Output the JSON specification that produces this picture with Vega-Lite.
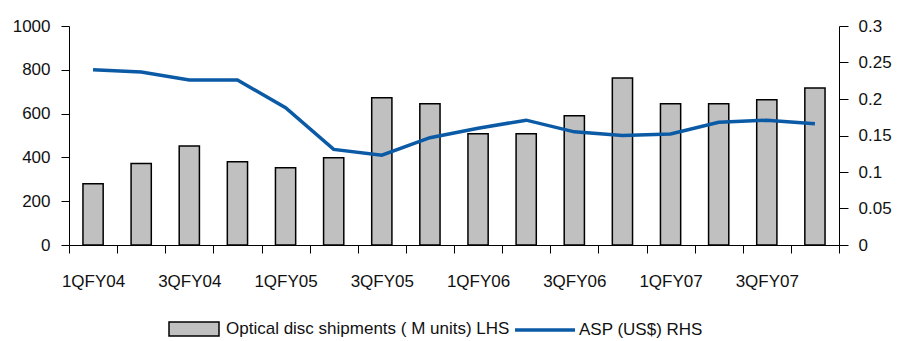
{
  "$schema": "https://vega.github.io/schema/vega-lite/v6.json",
  "width": 770,
  "height": 219,
  "padding": {"left": 12, "top": 17, "right": 5, "bottom": 4},
  "background": "white",
  "config": {
    "view": {"stroke": null},
    "font": "Liberation Sans",
    "axis": {"grid": false, "domainColor": "black", "tickColor": "black", "labelColor": "#111", "labelFont": "Liberation Sans", "labelFontSize": 17, "title": null, "domainWidth": 1, "tickWidth": 1},
    "legend": {"labelFont": "Liberation Sans", "labelFontSize": 17, "labelColor": "#111", "labelLimit": 400, "title": null}
  },
  "data": {
    "values": [
      {"q": "1QFY04", "ship": 280, "asp": 0.240},
      {"q": "2QFY04", "ship": 372, "asp": 0.237},
      {"q": "3QFY04", "ship": 452, "asp": 0.226},
      {"q": "4QFY04", "ship": 380, "asp": 0.226},
      {"q": "1QFY05", "ship": 353, "asp": 0.188},
      {"q": "2QFY05", "ship": 398, "asp": 0.131},
      {"q": "3QFY05", "ship": 672, "asp": 0.123},
      {"q": "4QFY05", "ship": 645, "asp": 0.147},
      {"q": "1QFY06", "ship": 508, "asp": 0.160},
      {"q": "2QFY06", "ship": 508, "asp": 0.171},
      {"q": "3QFY06", "ship": 590, "asp": 0.155},
      {"q": "4QFY06", "ship": 762, "asp": 0.150},
      {"q": "1QFY07", "ship": 645, "asp": 0.152},
      {"q": "2QFY07", "ship": 645, "asp": 0.168},
      {"q": "3QFY07", "ship": 663, "asp": 0.171},
      {"q": "4QFY07", "ship": 717, "asp": 0.166}
    ]
  },
  "encoding": {
    "x": {
      "field": "q", "type": "nominal", "sort": null,
      "scale": {"paddingInner": 0, "paddingOuter": 0},
      "axis": {"labelAngle": 0, "tickBand": "extent", "tickSize": 8, "labelPadding": 20,
               "labelExpr": "test(/^[13]Q/, datum.label) ? datum.label : ''"}
    }
  },
  "layer": [
    {
      "transform": [{"calculate": "'Optical disc shipments ( M units) LHS'", "as": "series"}],
      "mark": {"type": "bar", "width": {"band": 0.42}, "stroke": "black", "strokeWidth": 1.5},
      "encoding": {
        "y": {"field": "ship", "type": "quantitative", "scale": {"domain": [0, 1000]},
              "axis": {"orient": "left", "values": [0, 200, 400, 600, 800, 1000], "format": "d", "tickSize": 8, "labelPadding": 11}},
        "fill": {"field": "series", "type": "nominal",
          "scale": {"range": ["#c0c0c0"]},
          "legend": {"orient": "none", "legendX": 99, "legendY": 277,
            "symbolType": "M-1,-0.28H1V0.28H-1Z", "symbolSize": 2500,
            "symbolStrokeColor": "black", "symbolStrokeWidth": 1.5, "labelOffset": 6}}
      }
    },
    {
      "transform": [{"calculate": "'ASP (US$) RHS'", "as": "series"}],
      "mark": {"type": "line", "strokeWidth": 3.5},
      "encoding": {
        "y": {"field": "asp", "type": "quantitative", "scale": {"domain": [0, 0.3]},
              "axis": {"orient": "right", "values": [0, 0.05, 0.1, 0.15, 0.2, 0.25, 0.3], "format": "~g", "tickSize": 9, "labelPadding": 10}},
        "stroke": {"field": "series", "type": "nominal",
          "scale": {"range": ["#0b5aa6"]},
          "legend": {"orient": "none", "legendX": 444, "legendY": 272,
            "symbolType": "stroke", "symbolSize": 3600, "symbolStrokeWidth": 3.5, "labelOffset": 2}}
      }
    }
  ],
  "resolve": {"scale": {"y": "independent"}}
}
